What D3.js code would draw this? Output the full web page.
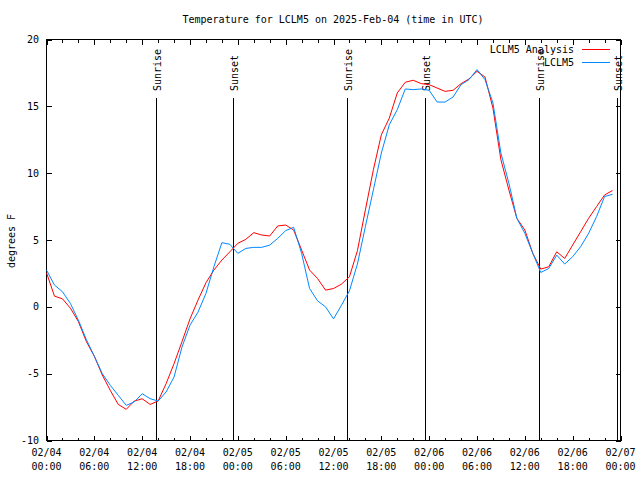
<!DOCTYPE html>
<html>
<head>
<meta charset="utf-8">
<script src="https://cdn.jsdelivr.net/npm/d3@7"></script>
<style>
  html, body { margin: 0; padding: 0; background: #fff; }
  svg { display: block; }
  text { font-family: "DejaVu Sans Mono", "Liberation Mono", monospace; font-size: 10px; fill: #000; }
</style>
</head>
<body>
<svg id="chart" width="640" height="480"></svg>
<script>
// ---------- data ----------
const titleText = "Temperature for LCLM5 on 2025-Feb-04 (time in UTC)";
const yLabel = "degrees F";
const startTime = "2025-02-04T00:00:00Z";
const endTime = "2025-02-07T00:00:00Z";
const stepHours = 1;

const seriesNames = ["LCLM5 Analysis", "LCLM5"];
const seriesColors = ["#ff0000", "#0088ff"];

const analysisValues = [
  2.55, 0.8, 0.6, -0.1, -1.1, -2.6, -3.7, -5.1, -6.25, -7.3, -7.67, -7.05,
  -6.88, -7.3, -7.05, -5.75, -4.25, -2.6, -0.9, 0.5, 1.8, 2.75, 3.5, 4.12,
  4.75, 5.05, 5.55, 5.37, 5.3, 6.05, 6.12, 5.75, 4.25, 2.75, 2.12, 1.25,
  1.37, 1.7, 2.25, 4.2, 7.25, 10.25, 12.87, 14.12, 16.0, 16.8, 16.95, 16.7,
  16.62, 16.37, 16.12, 16.2, 16.7, 17.05, 17.62, 17.2, 14.87, 11.0, 8.75, 6.62,
  5.75, 4.0, 2.82, 3.0, 4.12, 3.62, 4.62, 5.62, 6.62, 7.5, 8.37, 8.7
];
const stationValues = [
  2.75, 1.63, 1.13, 0.25, -1.0, -2.45, -3.7, -5.0, -5.87, -6.62, -7.37, -7.12,
  -6.5, -6.87, -7.05, -6.37, -5.25, -3.0, -1.37, -0.4, 1.0, 3.0, 4.8, 4.68,
  4.0, 4.37, 4.45, 4.45, 4.62, 5.12, 5.7, 5.95, 4.0, 1.37, 0.45, 0.0,
  -0.9, 0.12, 1.2, 3.2, 6.0, 8.75, 11.5, 13.62, 14.75, 16.3, 16.25, 16.3,
  16.2, 15.32, 15.32, 15.7, 16.62, 17.0, 17.75, 17.0, 15.25, 11.5, 9.25, 6.62,
  5.5, 4.0, 2.57, 2.87, 3.87, 3.2, 3.75, 4.5, 5.5, 6.75, 8.25, 8.42
];

const eventTimes = [
  "2025-02-04T13:45:00Z", "2025-02-04T23:27:00Z",
  "2025-02-05T13:45:00Z", "2025-02-05T23:29:00Z",
  "2025-02-06T13:48:00Z", "2025-02-06T23:36:00Z"
];
const eventLabels = ["Sunrise", "Sunset", "Sunrise", "Sunset", "Sunrise", "Sunset"];
const eventTop = 15.6;

const yTickValues = [-10, -5, 0, 5, 10, 15, 20];
const xTickDates = ["02/04", "02/04", "02/04", "02/04", "02/05", "02/05", "02/05", "02/05", "02/06", "02/06", "02/06", "02/06", "02/07"];
const xTickTimes = ["00:00", "06:00", "12:00", "18:00", "00:00", "06:00", "12:00", "18:00", "00:00", "06:00", "12:00", "18:00", "00:00"];

// ---------- scales ----------
const svg = d3.select("#chart");
const t0 = new Date(startTime), t1 = new Date(endTime);
const x = d3.scaleUtc().domain([t0, t1]).range([46.5, 620.5]);
const y = d3.scaleLinear().domain([-10, 20]).range([440.5, 39.5]);

const timeAt = i => d3.utcHour.offset(t0, i * stepHours);
const majorTicks = d3.utcHour.every(6).range(t0, d3.utcHour.offset(t1, 1));
const minorTicks = d3.utcHour.every(2).range(t0, d3.utcHour.offset(t1, 1)).filter(d => d.getUTCHours() % 6 !== 0);

// ---------- axes (inward ticks) ----------
function drawAxis(axis, tx, ty) {
  const g = svg.append("g").attr("transform", `translate(${tx},${ty})`).call(axis);
  g.select(".domain").remove();
  g.selectAll("line").attr("stroke", "#000").attr("shape-rendering", "crispEdges");
  g.selectAll("text").remove();
  return g;
}
drawAxis(d3.axisBottom(x).tickValues(majorTicks).tickSize(-5).tickFormat(""), 0, 440.5);
drawAxis(d3.axisBottom(x).tickValues(minorTicks).tickSize(-3).tickFormat(""), 0, 440.5);
drawAxis(d3.axisTop(x).tickValues(majorTicks).tickSize(-5).tickFormat(""), 0, 39.5);
drawAxis(d3.axisTop(x).tickValues(minorTicks).tickSize(-3).tickFormat(""), 0, 39.5);
drawAxis(d3.axisLeft(y).tickValues(yTickValues).tickSize(-5).tickFormat(""), 46.5, 0);
drawAxis(d3.axisRight(y).tickValues(yTickValues).tickSize(-5).tickFormat(""), 620.5, 0);

// border
svg.append("rect")
  .attr("x", x.range()[0]).attr("y", y.range()[1])
  .attr("width", x.range()[1] - x.range()[0]).attr("height", y.range()[0] - y.range()[1])
  .attr("fill", "none").attr("stroke", "#000").attr("shape-rendering", "crispEdges");

// y tick labels
svg.append("g").selectAll("text").data(yTickValues).join("text")
  .attr("x", 39).attr("y", d => y(d)).attr("dy", "0.35em")
  .attr("text-anchor", "end").text(d => d);

// x tick labels
const xl = svg.append("g").selectAll("g").data(majorTicks).join("g")
  .attr("transform", d => `translate(${x(d)},0)`);
xl.append("text").attr("y", 456).attr("text-anchor", "middle").text((d, i) => xTickDates[i]);
xl.append("text").attr("y", 470).attr("text-anchor", "middle").text((d, i) => xTickTimes[i]);

// title & y label
svg.append("text").attr("x", 333).attr("y", 23).attr("text-anchor", "middle").text(titleText);
svg.append("text").attr("transform", "translate(15,241) rotate(-90)")
  .attr("text-anchor", "middle").text(yLabel);

// sunrise / sunset lines
const ev = svg.append("g").selectAll("g").data(eventTimes.map((t, i) => ({ t: new Date(t), label: eventLabels[i] })))
  .join("g");
ev.append("line")
  .attr("x1", d => Math.round(x(d.t)) + 0.5).attr("x2", d => Math.round(x(d.t)) + 0.5)
  .attr("y1", y(eventTop)).attr("y2", y(-10))
  .attr("stroke", "#000").attr("shape-rendering", "crispEdges");
ev.append("text")
  .attr("transform", d => `translate(${Math.round(x(d.t)) + 5},91) rotate(-90)`)
  .attr("text-anchor", "start").text(d => d.label);

// series lines
const line = d3.line().x((d, i) => x(timeAt(i))).y(d => y(d));
[analysisValues, stationValues].forEach((vals, k) => {
  svg.append("path").datum(vals)
    .attr("d", line).attr("fill", "none")
    .attr("stroke", seriesColors[k]).attr("stroke-width", 1);
});

// legend
seriesNames.forEach((name, k) => {
  const ly = 49.5 + k * 13;
  svg.append("text").attr("x", 574).attr("y", ly).attr("dy", "0.35em")
    .attr("text-anchor", "end").text(name);
  svg.append("line").attr("x1", 582).attr("x2", 610).attr("y1", ly).attr("y2", ly)
    .attr("stroke", seriesColors[k]).attr("shape-rendering", "crispEdges");
});
</script>
</body>
</html>
